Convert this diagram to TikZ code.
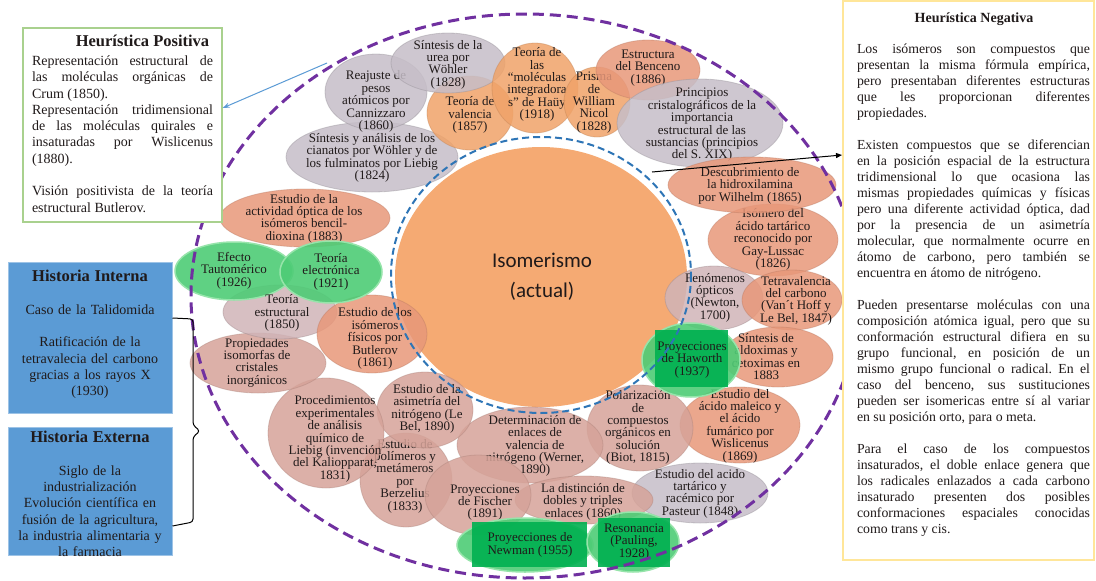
\documentclass[tikz,border=0pt]{standalone}
\usepackage{fontspec}
\setmainfont{Liberation Serif}
\newfontfamily\calibrifont{Carlito}
\usetikzlibrary{arrows.meta}
\tolerance=10000
\hbadness=10000
\frenchspacing

\definecolor{isoOrange}{RGB}{245,170,115}
\definecolor{isoGrey}{RGB}{198,190,200}
\definecolor{isoMauve}{RGB}{208,180,184}
\definecolor{isoApricot}{RGB}{240,163,105}
\definecolor{isoSalmon}{RGB}{232,152,122}
\definecolor{isoRose}{RGB}{214,163,153}
\definecolor{isoGreen}{RGB}{78,204,118}
\definecolor{isoGreenLight}{RGB}{150,228,170}
\definecolor{isoGreenDark}{RGB}{0,176,80}
\definecolor{isoPurple}{RGB}{112,48,160}
\definecolor{isoBlueDash}{RGB}{46,117,182}
\definecolor{isoBox}{RGB}{91,155,213}
\definecolor{isoBoxEdge}{RGB}{157,195,230}
\definecolor{isoPosEdge}{RGB}{169,209,142}
\definecolor{isoNegEdge}{RGB}{255,230,153}
\definecolor{isoArrow}{RGB}{91,155,213}
\definecolor{isoInk}{RGB}{32,26,26}

\begin{document}
\begin{tikzpicture}[x=1pt,y=-1pt,
    bub/.style={fill opacity=.85, draw opacity=.4, line width=.8pt},
    greybub/.style={bub, fill=isoGrey, draw=isoGrey!75!black},
    mauvebub/.style={bub, fill=isoMauve, draw=isoMauve!75!black},
    apricotbub/.style={bub, fill=isoApricot, draw=isoApricot!80!black},
    salmonbub/.style={bub, fill=isoSalmon, draw=isoSalmon!80!black},
    rosebub/.style={bub, fill=isoRose, draw=isoRose!80!black},
    greenbub/.style={fill=isoGreen, fill opacity=.9, draw=isoGreenLight, line width=1.5pt},
    greenpatch/.style={fill=isoGreenDark, fill opacity=.9},
    bubtxt/.style={font=\fontsize{13}{12.4}\selectfont, text=isoInk,
      align=center, inner sep=0pt},
    isotxt/.style={font=\calibrifont\fontsize{21}{30}\selectfont, text=isoInk,
      align=center, inner sep=0pt},
    posframe/.style={draw=isoPosEdge, line width=1.3pt, fill=white, inner sep=0pt},
    negframe/.style={draw=isoNegEdge, line width=2pt, fill=white, inner sep=0pt},
    histframe/.style={draw=isoBoxEdge, line width=1pt, fill=isoBox, inner sep=0pt},
    boxtitle/.style={font=\bfseries, text=isoInk, inner sep=0pt},
    posbody/.style={font=\fontsize{14}{16.3}\selectfont, text=isoInk,
      text width=181pt, align=justify, inner sep=0pt, anchor=north},
    negbody/.style={font=\fontsize{13.8}{16}\selectfont, text=isoInk,
      text width=233pt, align=justify, inner sep=0pt, anchor=north},
    histbody/.style={font=\fontsize{14}{16.3}\selectfont, text=isoInk,
      text width=164pt, align=center, inner sep=0pt, anchor=north},
    ring/.style={draw=isoPurple, line width=3pt, dash pattern=on 11pt off 6pt},
    core/.style={draw=isoBlueDash, line width=2pt, dash pattern=on 7pt off 4pt},
    posarrow/.style={draw=isoArrow, line width=1pt, -{Stealth[length=7pt,width=5pt]}},
    negarrow/.style={draw=black, line width=1pt, -{Triangle[length=6pt,width=5pt]}},
    bracket/.style={draw=black, line width=1pt, rounded corners=3pt}]
  \useasboundingbox (0,0) rectangle (1096,581);
  \fill[white] (0,0) rectangle (1096,581);

  % nucleo
  \fill[isoOrange] (541,277) ellipse [x radius=146, y radius=130];
  \node[isotxt] (iso) at (542,277) {Isomerismo\\(actual)};

  % burbujas, de atras hacia adelante
  \path[greybub] (372,157) ellipse [x radius=86, y radius=35];
  \node[bubtxt] (cianatos) at (372,158) {Síntesis y análisis de los\\cianatos por Wöhler y de\\los fulminatos por Liebig\\(1824)};
  \path[greybub] (376,92) ellipse [x radius=51, y radius=38];
  \node[bubtxt] (cannizzaro) at (376,101.5) {Reajuste de\\pesos\\atómicos por\\Cannizzaro\\(1860)};
  \path[apricotbub] (470,113) ellipse [x radius=43, y radius=37];
  \node[bubtxt] (valencia) at (470,115) {Teoría de\\valencia\\(1857)};
  \path[greybub] (448,63) ellipse [x radius=57, y radius=30];
  \node[bubtxt] (urea) at (448,64.5) {Síntesis de la\\urea por\\Wöhler\\(1828)};
  \path[apricotbub] (535,88) ellipse [x radius=43, y radius=45];
  \node[bubtxt] (hauy) at (537,84.5) {Teoría de\\las\\“moléculas\\integradora\\s” de Haüy\\(1918)};
  \path[apricotbub] (597,102) ellipse [x radius=33, y radius=35];
  \node[bubtxt] (nicol) at (594,102.5) {Prisma\\de\\William\\Nicol\\(1828)};
  \path[salmonbub] (648,70) ellipse [x radius=52, y radius=30];
  \node[bubtxt] (benceno) at (648,68) {Estructura\\del Benceno\\(1886)};
  \path[greybub] (700,123) ellipse [x radius=83, y radius=44];
  \node[bubtxt] (principios) at (702,125) {Principios\\cristalográficos de la\\importancia\\estructural de las\\sustancias (principios\\del S. XIX)};
  \path[salmonbub] (773,240) ellipse [x radius=65, y radius=36];
  \node[bubtxt] (gaylussac) at (773,239.5) {Isómero del\\ácido tartárico\\reconocido por\\Gay-Lussac\\(1826)};
  \path[salmonbub] (752,185) ellipse [x radius=84, y radius=28];
  \node[bubtxt] (hidroxil) at (750,185.5) {Descubrimiento de\\la hidroxilamina\\por Wilhelm (1865)};
  \path[mauvebub] (714,298) ellipse [x radius=49, y radius=32];
  \node[bubtxt] (newton) at (715,297.5) {Fenómenos\\ópticos\\(Newton,\\1700)};
  \path[salmonbub] (792,300) ellipse [x radius=50, y radius=30];
  \node[bubtxt] (tetraval) at (796,300.5) {Tetravalencia\\del carbono\\(Van´t Hoff y\\Le Bel, 1847)};
  \path[salmonbub] (778,357) ellipse [x radius=55, y radius=30];
  \node[bubtxt] (aldoximas) at (766,356.5) {Síntesis de\\aldoximas y\\cetoximas en\\1883};
  \path[salmonbub] (740,425) ellipse [x radius=60, y radius=38];
  \node[bubtxt] (maleico) at (740,426) {Estudio del\\ácido maleico y\\el ácido\\fumárico por\\Wislicenus\\(1869)};
  \path[greybub] (700,493) ellipse [x radius=68, y radius=30];
  \node[bubtxt] (pasteur) at (700,493.5) {Estudio del acido\\tartárico y\\racémico por\\Pasteur (1848)};
  \path[rosebub] (640,428) ellipse [x radius=53, y radius=43];
  \node[bubtxt] (biot) at (638,427.5) {Polarización\\de\\compuestos\\orgánicos en\\solución\\(Biot, 1815)};
  \path[rosebub] (530,445) ellipse [x radius=73, y radius=38];
  \node[bubtxt] (werner) at (535,446) {Determinación de\\enlaces de\\valencia de\\nitrógeno (Werner,\\1890)};
  \path[rosebub] (584,500) ellipse [x radius=69, y radius=24];
  \node[bubtxt] (distincion) at (583,501.5) {La distinción de\\dobles y triples\\enlaces (1860)};
  \path[rosebub] (406,480) ellipse [x radius=46, y radius=47];
  \node[bubtxt] (berzelius) at (405,476) {Estudio de\\polímeros y\\metámeros\\por\\Berzelius\\(1833)};
  \path[rosebub] (478,495) ellipse [x radius=53, y radius=40];
  \node[bubtxt] (fischer) at (485,502.5) {Proyecciones\\de Fischer\\(1891)};
  \path[rosebub] (425,410) ellipse [x radius=48, y radius=38];
  \node[bubtxt] (asimetria) at (427,409) {Estudio de la\\asimetría del\\nitrógeno (Le\\Bel, 1890)};
  \path[rosebub] (326,433) ellipse [x radius=58, y radius=55];
  \node[bubtxt] (liebig) at (335,439) {Procedimientos\\experimentales\\de análisis\\químico de\\Liebig (invención\\del Kaliopparat,\\1831)};
  \path[rosebub] (258,363) ellipse [x radius=68, y radius=30];
  \node[bubtxt] (isomorfas) at (257,362.5) {Propiedades\\isomorfas de\\cristales\\inorgánicos};
  \path[mauvebub] (280,312) ellipse [x radius=57, y radius=27];
  \path[salmonbub] (372,334) ellipse [x radius=55, y radius=39];
  \node[bubtxt] (butlerov) at (375,338.5) {Estudio de los\\isómeros\\físicos por\\Butlerov\\(1861)};
  \path[salmonbub] (305,218) ellipse [x radius=85, y radius=29];
  \node[bubtxt] (bencil) at (304,218.5) {Estudio de la\\actividad óptica de los\\isómeros bencil-\\dioxina (1883)};

  % burbujas verdes
  \path[greenbub] (234,271) ellipse [x radius=59, y radius=29];
  \node[bubtxt] (tautomerico) at (234,270.5) {Efecto\\Tautomérico\\(1926)};
  \path[greenbub] (331,272) ellipse [x radius=51, y radius=31];
  \node[bubtxt] (electronica) at (331,271.5) {Teoría\\electrónica\\(1921)};
  \node[bubtxt] (estructural) at (282,313) {Teoría\\estructural\\(1850)};
  \path[greenbub] (691,360) ellipse [x radius=49, y radius=37];
  \fill[greenpatch] (655,330) rectangle (728,387);
  \node[bubtxt] (haworth) at (692,360) {Proyecciones\\de Haworth\\(1937)};
  \path[greenbub] (525,545) ellipse [x radius=68, y radius=27];
  \fill[greenpatch] (472,522) rectangle (587,567);
  \node[bubtxt] (newman) at (530,545) {Proyecciones de\\Newman (1955)};
  \path[greenbub] (633,542) ellipse [x radius=46, y radius=30];
  \fill[greenpatch] (598,518) rectangle (670,567);
  \node[bubtxt] (resonancia) at (634,542) {Resonancia\\(Pauling,\\1928)};

  % anillos punteados
  \draw[core] (541,275) ellipse [x radius=150, y radius=138];
  \draw[ring] (525,296) ellipse [x radius=334, y radius=282];

  % heuristica positiva
  \node[posframe, minimum width=199pt, minimum height=194pt] (hpos) at (122.5,125) {};
  \node[boxtitle, font=\fontsize{16.5}{18}\selectfont\bfseries] (hpostitle) at (142.5,41) {Heurística Positiva};
  \node[posbody] (hposbody) at (122.5,55.5) {Representación estructural de\linebreak
    las moléculas orgánicas de\linebreak Crum (1850).\\
    Representación tridimensional\linebreak de las moléculas quirales e\linebreak
    insaturadas por Wislicenus\linebreak (1880).\\[16.3pt]
    Visión positivista de la teoría\linebreak estructural Butlerov.};

  % historia interna / externa
  \node[histframe, minimum width=164pt, minimum height=151pt] (hint) at (90,337.5) {};
  \node[histbody] (hinttxt) at (90,270) {{\fontsize{16.5}{16.3}\selectfont\bfseries Historia Interna}\\[16.3pt]
    Caso de la Talidomida\\[16.3pt]
    Ratificación de la\\tetravalecia del carbono\\gracias a los rayos X\\(1930)};
  \node[histframe, minimum width=164pt, minimum height=128pt] (hext) at (90,491) {};
  \node[histbody] (hexttxt) at (90,431) {{\fontsize{16.5}{16.3}\selectfont\bfseries Historia Externa}\\[16.3pt]
    Siglo de la\\industrialización\\Evolución científica en\\fusión de la agricultura,\\la industria alimentaria y\\la farmacia};
  \draw[bracket] ([yshift=19.5pt]hint.east) -- (193,319) -- (193,425) -- (200,431)
    -- (193,437) -- (193,522) -- ([yshift=-35pt]hext.east);

  % heuristica negativa
  \node[negframe, minimum width=251pt, minimum height=559pt] (hneg) at (968.5,280.5) {};
  \node[boxtitle, font=\fontsize{14}{16}\selectfont\bfseries] (hnegtitle) at (974,19) {Heurística Negativa};
  \node[negbody] (hnegbody) at (973.5,43.5) {Los isómeros son compuestos que\linebreak
    presentan la misma fórmula empírica,\linebreak
    pero presentaban diferentes estructuras\linebreak
    que les proporcionan diferentes\linebreak propiedades.\\[16pt]
    Existen compuestos que se diferencian\linebreak
    en la posición espacial de la estructura\linebreak
    tridimensional lo que ocasiona las\linebreak
    mismas propiedades químicas y físicas\linebreak
    pero una diferente actividad óptica, dad\linebreak
    por la presencia de un asimetría\linebreak
    molecular, que normalmente ocurre en\linebreak
    átomo de carbono, pero también se\linebreak
    encuentra en átomo de nitrógeno.\\[16pt]
    Pueden presentarse moléculas con una\linebreak
    composición atómica igual, pero que su\linebreak
    conformación estructural difiera en su\linebreak
    grupo funcional, en posición de un\linebreak
    mismo grupo funcional o radical. En el\linebreak
    caso del benceno, sus sustituciones\linebreak
    pueden ser isomericas entre sí al variar\linebreak
    en su posición orto, para o meta.\\[16pt]
    Para el caso de los compuestos\linebreak
    insaturados, el doble enlace genera que\linebreak
    los radicales enlazados a cada carbono\linebreak
    insaturado presenten dos posibles\linebreak
    conformaciones espaciales conocidas\linebreak
    como trans y cis.};

  % flechas
  \coordinate (possrc) at (327,63);
  \coordinate (negsrc) at (652,172);
  \draw[posarrow] (possrc) -- ([yshift=17pt]hpos.east);
  \draw[negarrow] (negsrc) -- ([yshift=125.5pt]hneg.west);
\end{tikzpicture}
\end{document}
